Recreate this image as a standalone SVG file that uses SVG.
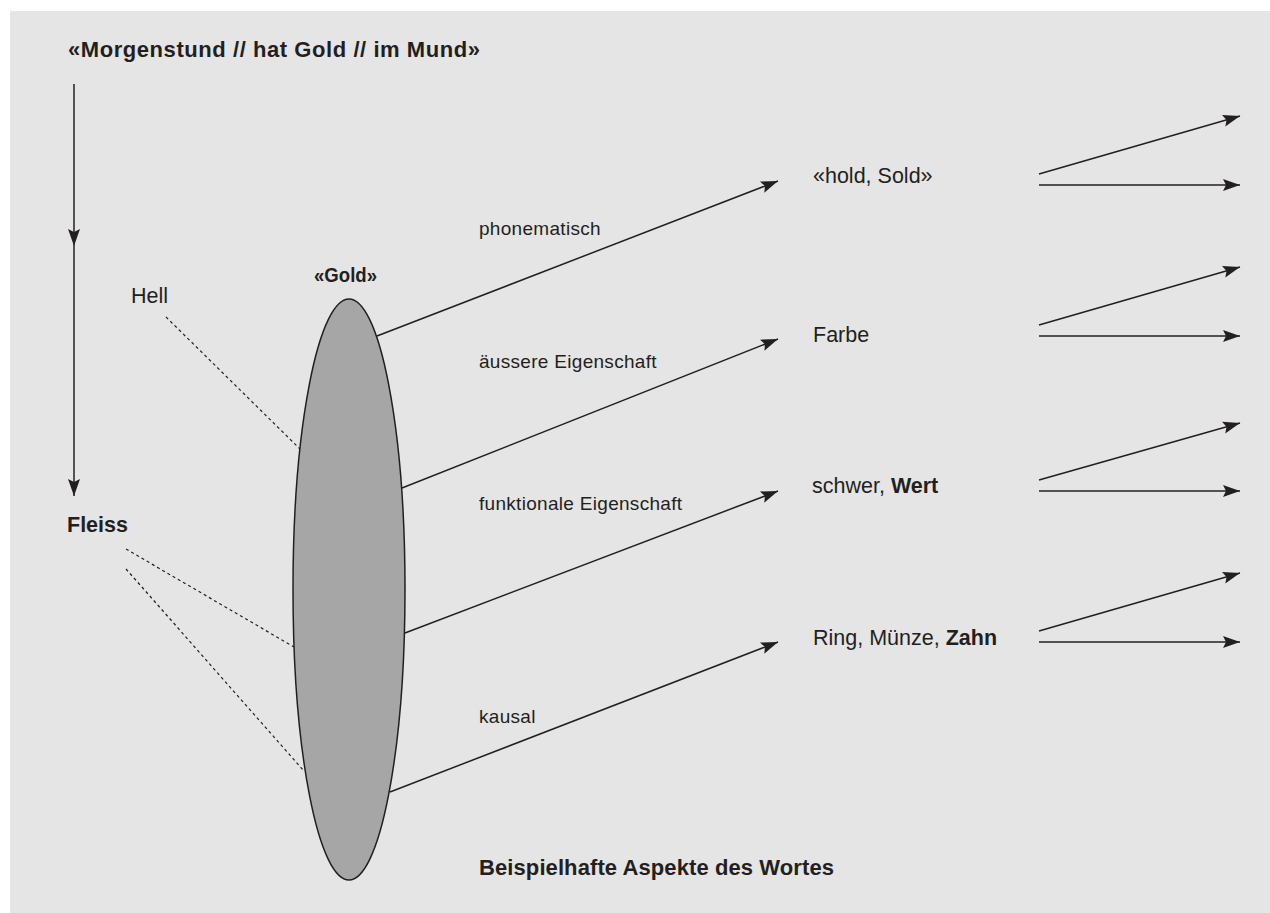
<svg xmlns="http://www.w3.org/2000/svg" width="1270" height="913" viewBox="0 0 1270 913">
<style>
text{font-family:"Liberation Sans",Arial,sans-serif;fill:#231f20}
.b{font-weight:bold}
.n{font-size:21.5px}
.e{font-size:19px;letter-spacing:0.3px}
.ln{stroke:#231f20;stroke-width:1.5;fill:none}
.ar{stroke:#231f20;stroke-width:1.5;fill:none;marker-end:url(#ah)}
.ds{stroke:#231f20;stroke-width:1.2;fill:none;stroke-dasharray:3 3}
</style>
<defs>
<marker id="ah" markerUnits="userSpaceOnUse" markerWidth="18" markerHeight="12" refX="17" refY="6" orient="auto" overflow="visible">
<path d="M0,0 L17,6 L0,12 L3,6 z" fill="#231f20"/>
</marker>
</defs>
<rect x="10" y="11" width="1260" height="902" fill="#e5e5e5"/>

<g id="connectors">
<path class="ar" d="M74,84 L74,246 L74,496" style="marker-mid:url(#ah)"/>
<line class="ds" x1="166" y1="317" x2="300" y2="449"/>
<line class="ds" x1="126" y1="549" x2="294" y2="647"/>
<line class="ds" x1="126" y1="569" x2="304" y2="771"/>
<line class="ar" x1="377" y1="336" x2="778" y2="181"/>
<line class="ar" x1="402" y1="488" x2="778" y2="339"/>
<line class="ar" x1="405" y1="633" x2="778" y2="491"/>
<line class="ar" x1="390" y1="792" x2="778" y2="642"/>
<line class="ar" x1="1039" y1="174" x2="1240" y2="116"/>
<line class="ar" x1="1039" y1="185" x2="1240" y2="185"/>
<line class="ar" x1="1039" y1="325" x2="1240" y2="267"/>
<line class="ar" x1="1039" y1="336" x2="1240" y2="336"/>
<line class="ar" x1="1039" y1="480" x2="1240" y2="423"/>
<line class="ar" x1="1039" y1="491" x2="1240" y2="491"/>
<line class="ar" x1="1039" y1="631" x2="1240" y2="573"/>
<line class="ar" x1="1039" y1="642" x2="1240" y2="642"/>
</g>

<g id="title"><text class="b" x="68" y="57" font-size="22" textLength="412" lengthAdjust="spacing">«Morgenstund // hat Gold // im Mund»</text></g>
<g id="gold">
<ellipse cx="349" cy="589.5" rx="56" ry="290.5" fill="#a6a6a6" stroke="#231f20" stroke-width="1.5"/>
<text class="b" x="314" y="282" font-size="20" textLength="63" lengthAdjust="spacingAndGlyphs">«Gold»</text>
</g>
<g id="hell"><text class="n" x="131" y="303">Hell</text></g>
<g id="fleiss"><text class="n b" x="67" y="532">Fleiss</text></g>
<g id="edge-labels">
<text class="e" x="479" y="235">phonematisch</text>
<text class="e" x="479" y="368">äussere Eigenschaft</text>
<text class="e" x="479" y="510">funktionale Eigenschaft</text>
<text class="e" x="479" y="723">kausal</text>
</g>
<g id="hold"><text class="n" x="813" y="183">«hold, Sold»</text></g>
<g id="farbe"><text class="n" x="813" y="342">Farbe</text></g>
<g id="schwer"><text class="n" x="812" y="493">schwer, <tspan class="b">Wert</tspan></text></g>
<g id="ring"><text class="n" x="813" y="645">Ring, Münze, <tspan class="b">Zahn</tspan></text></g>
<g id="caption"><text class="b" x="479" y="875" font-size="22" textLength="355" lengthAdjust="spacing">Beispielhafte Aspekte des Wortes</text></g>
</svg>
